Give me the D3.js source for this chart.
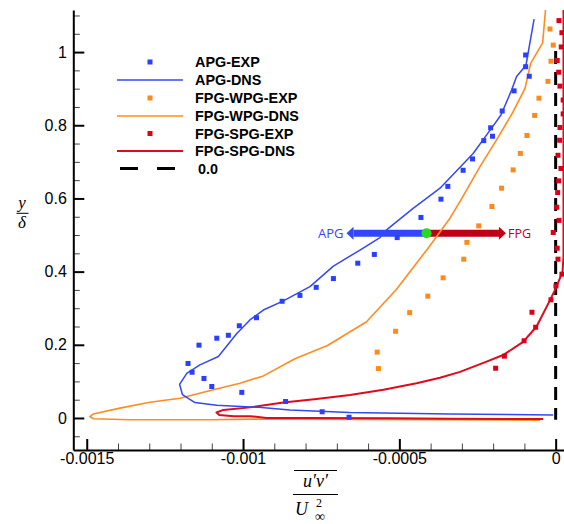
<!DOCTYPE html>
<html>
<head>
<meta charset="utf-8">
<script src="https://cdn.jsdelivr.net/npm/d3@7"></script>
<style>
  body { margin: 0; background: #fff; }
  svg { display: block; }
</style>
</head>
<body>
<svg id="chart" width="564" height="524"></svg>
<script>
// Reynolds shear stress profiles, u'v'/U∞² against y/δ
const seriesNames = ["APG-EXP", "APG-DNS", "FPG-WPG-EXP", "FPG-WPG-DNS", "FPG-SPG-EXP", "FPG-SPG-DNS", "0.0"];

const apgExp = [
  [-0.000096, 0.992], [-0.000096, 0.960], [-0.0000845, 0.934], [-0.000133, 0.894],
  [-0.000171, 0.839], [-0.000208, 0.793], [-0.000202, 0.770], [-0.000230, 0.758],
  [-0.000266, 0.708], [-0.000296, 0.677], [-0.000345, 0.633], [-0.000367, 0.598],
  [-0.000431, 0.548], [-0.000507, 0.493], [-0.000580, 0.447], [-0.000633, 0.423],
  [-0.000711, 0.381], [-0.000766, 0.357], [-0.000818, 0.335], [-0.000875, 0.319],
  [-0.000957, 0.274], [-0.001012, 0.252], [-0.001047, 0.226], [-0.001084, 0.218],
  [-0.001141, 0.199], [-0.001176, 0.149], [-0.001163, 0.125], [-0.001125, 0.108],
  [-0.001100, 0.086], [-0.001004, 0.070], [-0.000864, 0.045], [-0.000747, 0.017],
  [-0.000661, 0.002]
];

const apgDns = [
  [-0.000069, 1.090], [-0.000095, 0.964], [-0.000125, 0.933], [-0.000141, 0.896],
  [-0.000175, 0.828], [-0.000205, 0.792], [-0.000264, 0.723], [-0.000370, 0.628],
  [-0.000392, 0.614], [-0.000456, 0.573], [-0.000541, 0.514], [-0.000562, 0.493],
  [-0.000626, 0.459], [-0.000711, 0.415], [-0.000786, 0.359], [-0.000871, 0.320],
  [-0.000935, 0.295], [-0.000978, 0.268], [-0.001020, 0.231], [-0.001079, 0.168],
  [-0.001138, 0.145], [-0.001180, 0.122], [-0.001203, 0.092], [-0.001194, 0.064],
  [-0.001154, 0.042], [-0.001084, 0.035], [-0.000950, 0.029], [-0.000850, 0.022],
  [-0.000660, 0.015], [-0.000340, 0.011], [-0.000008, 0.008]
];

const wpgExp = [
  [-0.0000182, 1.063], [-0.0000077, 1.019], [-0.000015, 0.975], [-0.0000246, 0.920],
  [-0.0000534, 0.874], [-0.0000672, 0.827], [-0.0000918, 0.772], [-0.000113, 0.723],
  [-0.000136, 0.678], [-0.000173, 0.628], [-0.000204, 0.578], [-0.000246, 0.525],
  [-0.000284, 0.480], [-0.000294, 0.434], [-0.000360, 0.383], [-0.000409, 0.333],
  [-0.000467, 0.288], [-0.000512, 0.237], [-0.000571, 0.180], [-0.000567, 0.135]
];

const wpgDns = [
  [-0.000031, 1.130], [-0.0000416, 1.025], [-0.000080, 0.969], [-0.000098, 0.901],
  [-0.000136, 0.837], [-0.000189, 0.760], [-0.000242, 0.687], [-0.000303, 0.596],
  [-0.000338, 0.546], [-0.000410, 0.462], [-0.000509, 0.352], [-0.000605, 0.263],
  [-0.000730, 0.198], [-0.000834, 0.162], [-0.000935, 0.115], [-0.001010, 0.095],
  [-0.001095, 0.077], [-0.001202, 0.054], [-0.001298, 0.043], [-0.001394, 0.027],
  [-0.001479, 0.011], [-0.001490, 0.004], [-0.001479, -0.002], [-0.001362, -0.005],
  [-0.001106, -0.005], [-0.000946, -0.003], [-0.000600, -0.004], [-0.000050, -0.006]
];

const spgExp = [
  [0.0000106, 1.086], [0.000020, 1.053], [0.000018, 1.014], [0.000005, 0.977],
  [0.0000096, 0.945], [0.0000138, 0.907], [0.000024, 0.869], [0.000024, 0.831],
  [0.0000138, 0.794], [0.0000128, 0.759], [0.0000074, 0.718], [0.000017, 0.682],
  [0.0000096, 0.648], [0.0000064, 0.616], [0.0000032, 0.576], [0.0000106, 0.540],
  [-0.0000077, 0.507], [0.000005, 0.464], [0.0000074, 0.434], [0.000020, 0.393],
  [0.000001, 0.361], [-0.000015, 0.323], [-0.0000758, 0.289], [-0.000064, 0.248],
  [-0.000101, 0.211], [-0.000164, 0.169], [-0.000192, 0.136]
];

const spgDns = [
  [0.000025, 1.130], [0.000025, 0.440], [0.000022, 0.400], [0.000003, 0.359],
  [-0.000018, 0.322], [-0.000061, 0.250], [-0.000104, 0.208], [-0.000168, 0.172],
  [-0.000221, 0.154], [-0.000306, 0.126], [-0.000370, 0.110], [-0.000445, 0.095],
  [-0.000551, 0.077], [-0.000658, 0.063], [-0.000765, 0.052], [-0.000871, 0.042],
  [-0.000978, 0.029], [-0.001063, 0.022], [-0.001085, 0.015], [-0.001076, 0.008],
  [-0.001030, 0.005], [-0.000978, 0.005], [-0.000925, 0.000], [-0.000797, 0.000],
  [-0.000530, -0.001], [-0.000338, -0.002], [-0.000040, -0.003]
];

// zero reference line
const zeroLine = [[0, 1.003], [0, -0.005]];

// APG / FPG direction arrows
const arrowY = 0.505;
const arrowOrigin = -0.000413;
const apgTip = -0.000669;
const fpgTip = -0.000159;

const xTickValues = [-0.0015, -0.001, -0.0005, 0];
const xTickLabels = ["-0.0015", "-0.001", "-0.0005", "0"];
const yTickValues = [0, 0.2, 0.4, 0.6, 0.8, 1];
const yTickLabels = ["0", "0.2", "0.4", "0.6", "0.8", "1"];

const colors = {
  apgPt: "#2a3fff", apgLn: "#3449f0",
  wpgPt: "#ff8a1c", wpgLn: "#ff8c1f",
  spgPt: "#db0019", spgLn: "#de0a1e",
  apgArrow: "#3346ff", fpgArrow: "#be0016", dot: "#22dd22"
};

const svg = d3.select("#chart");
const plotLeft = 73.3, plotRight = 564.1, plotTop = 10, plotBottom = 450;
const x = d3.scaleLinear().domain([-0.001543, 0.000027]).range([plotLeft, plotRight]);
const y = d3.scaleLinear().domain([-0.0875, 1.115]).range([plotBottom, plotTop]);

svg.append("defs").append("clipPath").attr("id", "plotClip")
  .append("rect").attr("x", plotLeft).attr("y", plotTop)
  .attr("width", plotRight - plotLeft + 2).attr("height", plotBottom - plotTop);

const font = "'Liberation Sans', Arial, Helvetica, sans-serif";

// minor ticks
const xMinor = d3.range(-15, 1).map(i => i * 0.0001).filter(v => !xTickValues.some(t => Math.abs(t - v) < 1e-9));
const yMinor = d3.range(-1, 23).map(i => i * 0.05).filter(v => !yTickValues.some(t => Math.abs(t - v) < 1e-9) && v <= 1.11);

const gxMinor = svg.append("g").attr("transform", `translate(0,${plotBottom})`)
  .call(d3.axisBottom(x).tickValues(xMinor).tickSize(-6.5).tickFormat(""));
gxMinor.select(".domain").remove();
gxMinor.selectAll("line").attr("stroke", "#444").attr("stroke-width", 1);

const gyMinor = svg.append("g").attr("transform", `translate(${plotLeft},0)`)
  .call(d3.axisLeft(y).tickValues(yMinor).tickSize(-6.5).tickFormat(""));
gyMinor.select(".domain").remove();
gyMinor.selectAll("line").attr("stroke", "#444").attr("stroke-width", 1);

const gx = svg.append("g").attr("transform", `translate(0,${plotBottom})`)
  .call(d3.axisBottom(x).tickValues(xTickValues).tickSize(-11).tickSizeOuter(0).tickPadding(2.5)
    .tickFormat((d, i) => xTickLabels[i]));
gx.select(".domain").attr("stroke-width", 2);
gx.selectAll(".tick line").attr("stroke-width", 2);
gx.selectAll("text").attr("font-family", font).attr("font-size", 16).attr("fill", "#000");

const gy = svg.append("g").attr("transform", `translate(${plotLeft},0)`)
  .call(d3.axisLeft(y).tickValues(yTickValues).tickSize(-11).tickSizeOuter(0).tickPadding(6.5)
    .tickFormat((d, i) => yTickLabels[i]));
gy.select(".domain").attr("stroke-width", 2);
gy.selectAll(".tick line").attr("stroke-width", 2);
gy.selectAll("text").attr("font-family", font).attr("font-size", 16).attr("fill", "#000");

const plot = svg.append("g").attr("clip-path", "url(#plotClip)");
const line = d3.line().x(d => x(d[0])).y(d => y(d[1]));

// direction arrows (drawn under the profiles)
function arrow(tip, color) {
  const x0 = x(arrowOrigin), xt = x(tip), yy = y(arrowY);
  const dir = Math.sign(xt - x0), head = 7, halfH = 6.5;
  plot.append("line")
    .attr("x1", x0).attr("x2", xt - dir * head).attr("y1", yy).attr("y2", yy)
    .attr("stroke", color).attr("stroke-width", 7);
  plot.append("path")
    .attr("d", `M${xt},${yy} L${xt - dir * head},${yy - halfH} L${xt - dir * head},${yy + halfH} Z`)
    .attr("fill", color);
}
arrow(apgTip, colors.apgArrow);
arrow(fpgTip, colors.fpgArrow);

// zero line
plot.append("path").datum(zeroLine).attr("d", line)
  .attr("fill", "none").attr("stroke", "#000").attr("stroke-width", 3)
  .attr("stroke-dasharray", "13,8");

// DNS profiles
[[wpgDns, colors.wpgLn, 1.6], [spgDns, colors.spgLn, 2], [apgDns, colors.apgLn, 1.5]].forEach(([d, c, w]) => {
  plot.append("path").datum(d).attr("d", line)
    .attr("fill", "none").attr("stroke", c).attr("stroke-width", w)
    .attr("stroke-linejoin", "round");
});

// experimental points
const sq = 5;
[[apgExp, colors.apgPt], [wpgExp, colors.wpgPt], [spgExp, colors.spgPt]].forEach(([d, c]) => {
  plot.append("g").selectAll("rect").data(d).join("rect")
    .attr("x", p => x(p[0]) - sq / 2).attr("y", p => y(p[1]) - sq / 2)
    .attr("width", sq).attr("height", sq).attr("fill", c);
});

// arrow origin marker
plot.append("circle").attr("cx", x(arrowOrigin)).attr("cy", y(arrowY)).attr("r", 5)
  .attr("fill", colors.dot);

// arrow labels
const labFont = "'Open Sans', 'Noto Sans', sans-serif";
svg.append("text").attr("x", x(apgTip) - 3).attr("y", y(arrowY) + 4.8)
  .attr("text-anchor", "end").attr("font-family", labFont).attr("font-size", 13)
  .attr("fill", colors.apgArrow).text("APG");
svg.append("text").attr("x", x(fpgTip) + 2).attr("y", y(arrowY) + 4.8)
  .attr("font-family", labFont).attr("font-size", 12.5)
  .attr("fill", colors.fpgArrow).text("FPG");

// legend
const legend = svg.append("g");
const legendRows = [62, 80, 98, 116, 133.5, 151, 168.5];
const legendKinds = [
  ["pt", colors.apgPt], ["ln", colors.apgLn], ["pt", colors.wpgPt], ["ln", colors.wpgLn],
  ["pt", colors.spgPt], ["ln", colors.spgLn], ["dash", "#000"]
];
seriesNames.forEach((name, i) => {
  const ly = legendRows[i], [kind, c] = legendKinds[i];
  if (kind === "pt") {
    legend.append("rect").attr("x", 150 - sq / 2).attr("y", ly - sq / 2)
      .attr("width", sq).attr("height", sq).attr("fill", c);
  } else if (kind === "ln") {
    legend.append("line").attr("x1", 117).attr("x2", 183).attr("y1", ly).attr("y2", ly)
      .attr("stroke", c).attr("stroke-width", i === 5 ? 2 : 1.6);
  } else {
    legend.append("line").attr("x1", 120).attr("x2", 175).attr("y1", ly).attr("y2", ly)
      .attr("stroke", c).attr("stroke-width", 3).attr("stroke-dasharray", "18,19");
  }
  legend.append("text").attr("x", i === 6 ? 198 : 195).attr("y", ly + 5)
    .attr("font-family", font).attr("font-weight", "bold").attr("font-size", 14.4)
    .attr("fill", "#000").text(name);
});

// axis titles
const serif = "'Liberation Serif', 'DejaVu Serif', serif";
const yl = svg.append("g");
yl.append("text").attr("x", 22).attr("y", 207.5).attr("text-anchor", "middle")
  .attr("font-family", serif).attr("font-style", "italic").attr("font-size", 17).text("y");
yl.append("line").attr("x1", 16.5).attr("x2", 28.5).attr("y1", 213.3).attr("y2", 213.3)
  .attr("stroke", "#000").attr("stroke-width", 1);
yl.append("text").attr("x", 22).attr("y", 228.3).attr("text-anchor", "middle")
  .attr("font-family", serif).attr("font-style", "italic").attr("font-size", 17).text("δ");

const xl = svg.append("g");
xl.append("line").attr("x1", 294).attr("x2", 337).attr("y1", 470.5).attr("y2", 470.5)
  .attr("stroke", "#000").attr("stroke-width", 1);
xl.append("text").attr("x", 315.5).attr("y", 486.5).attr("text-anchor", "middle")
  .attr("font-family", serif).attr("font-style", "italic").attr("font-size", 18).text("u′v′");
xl.append("line").attr("x1", 293).attr("x2", 338).attr("y1", 494.5).attr("y2", 494.5)
  .attr("stroke", "#000").attr("stroke-width", 1);
xl.append("text").attr("x", 295).attr("y", 514.5)
  .attr("font-family", serif).attr("font-style", "italic").attr("font-size", 18).text("U");
xl.append("text").attr("x", 316).attr("y", 507)
  .attr("font-family", serif).attr("font-size", 12).text("2");
xl.append("text").attr("x", 315).attr("y", 521)
  .attr("font-family", serif).attr("font-size", 14).text("∞");
</script>
</body>
</html>
